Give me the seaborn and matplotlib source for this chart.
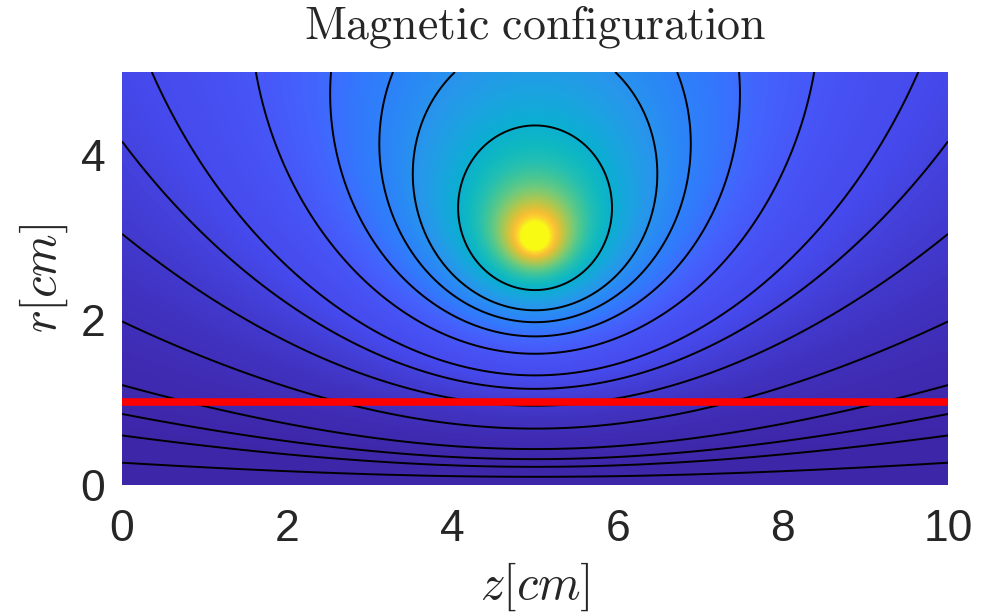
import numpy as np
import seaborn as sns
import matplotlib
matplotlib.use('Agg')
import matplotlib.pyplot as plt
from matplotlib.colors import LinearSegmentedColormap

# Geometry (cm)
z_range = [0, 10]
r_range = [0, 5]
loop_z = 5.0
loop_r = 3.0
red_line_r = 1.0

# Points where each black flux contour leaves the frame (left edge, top edge),
# plus the innermost closed one crossing z = 5 below the coil
contour_z = [0, 0, 0, 0, 0, 0, 0, 0.36, 1.62, 2.53, 3.28, 4.03, 5.0]
contour_r = [0.27, 0.60, 0.86, 1.21, 1.98, 3.04, 4.16, 5.0, 5.0, 5.0, 5.0, 5.0, 2.36]

# parula-like colormap anchors
parula_pos = [0.0, 0.1, 0.15, 0.2, 0.25, 0.3, 0.35, 0.4, 0.45, 0.5, 0.55, 0.6, 0.65, 0.7, 0.75, 0.8, 0.85, 0.9, 0.95, 1.0]
parula_rgb = [
    (0.2422, 0.1504, 0.6603), (0.2738, 0.2857, 0.9210), (0.2810, 0.3228, 0.9579),
    (0.2691, 0.3845, 0.9912), (0.1986, 0.4721, 0.9897), (0.1656, 0.5323, 0.9634),
    (0.1540, 0.5902, 0.9218), (0.1034, 0.6432, 0.8766), (0.0433, 0.6853, 0.8227),
    (0.0589, 0.7245, 0.7567), (0.1402, 0.7507, 0.6961), (0.2621, 0.7747, 0.5946),
    (0.4083, 0.7896, 0.5048), (0.5717, 0.7878, 0.3917), (0.7230, 0.7774, 0.2896),
    (0.8526, 0.7611, 0.2276), (0.9652, 0.7478, 0.2082), (0.9946, 0.8014, 0.1869),
    (0.9706, 0.8901, 0.1467), (0.9769, 0.9839, 0.0805)]
parula = LinearSegmentedColormap.from_list('parula', list(zip(parula_pos, parula_rgb)))


def ellip_KE(m):
    # complete elliptic integrals via AGM
    a = np.ones_like(m)
    b = np.sqrt(1 - m)
    s = 0.5 * m
    p = 0.5
    for _ in range(20):
        a, b, c = (a + b) / 2, np.sqrt(a * b), (a - b) / 2
        p *= 2
        s = s + p * c * c
    K = np.pi / (2 * a)
    return K, K * (1 - s)


def flux(z, r):
    # poloidal flux r*A_phi of a single current loop
    z = np.asarray(z, dtype=float)
    r = np.asarray(r, dtype=float)
    m = 4 * loop_r * r / ((loop_r + r) ** 2 + (z - loop_z) ** 2)
    m = np.clip(m, 1e-12, 1 - 1e-12)
    k = np.sqrt(m)
    K, E = ellip_KE(m)
    A = np.sqrt(loop_r / np.maximum(r, 1e-12)) * ((1 - m / 2) * K - E) / (np.pi * k)
    return np.where(r > 0, r * A, 0.0)


zz = np.linspace(z_range[0], z_range[1], 500)
rr = np.linspace(r_range[0], r_range[1], 250)
Z, R = np.meshgrid(zz, rr)
PSI = flux(Z, R)

levels = np.unique(np.sort(flux(contour_z, contour_r)))
vmax = float(flux([loop_z], [loop_r - 0.15])[0])

sns.set_style('white')
plt.rcParams['font.family'] = ['Liberation Sans', 'DejaVu Sans']
plt.rcParams['mathtext.fontset'] = 'cm'

fig = plt.figure(figsize=(9.85, 6.13), dpi=100)
ax = fig.add_axes([0.1239, 0.2088, 0.8386, 0.6737])
ax.imshow(PSI, origin='lower', extent=[z_range[0], z_range[1], r_range[0], r_range[1]],
          cmap=parula, vmin=0, vmax=vmax, interpolation='bilinear', aspect='equal')
ax.contour(Z, R, PSI, levels=levels, colors='black', linewidths=1.4)
sns.lineplot(x=z_range, y=[red_line_r, red_line_r], color='red', linewidth=5.5, ax=ax)

ax.set_xlim(z_range)
ax.set_ylim(r_range)
ax.set_xticks([0, 2, 4, 6, 8, 10])
ax.set_yticks([0, 2, 4])
ax.tick_params(axis='x', length=0, labelsize=32, pad=17)
ax.tick_params(axis='y', length=0, labelsize=32, pad=12)
for s in ax.spines.values():
    s.set_visible(False)
ax.set_xlabel(r'$z[cm]$', fontsize=35, labelpad=8)
ax.set_ylabel(r'$r[cm]$', fontsize=35, labelpad=8)
ax.set_title(r'$\mathrm{Magnetic\ configuration}$', fontsize=33, pad=24)

fig.savefig('out.png', dpi=100)
